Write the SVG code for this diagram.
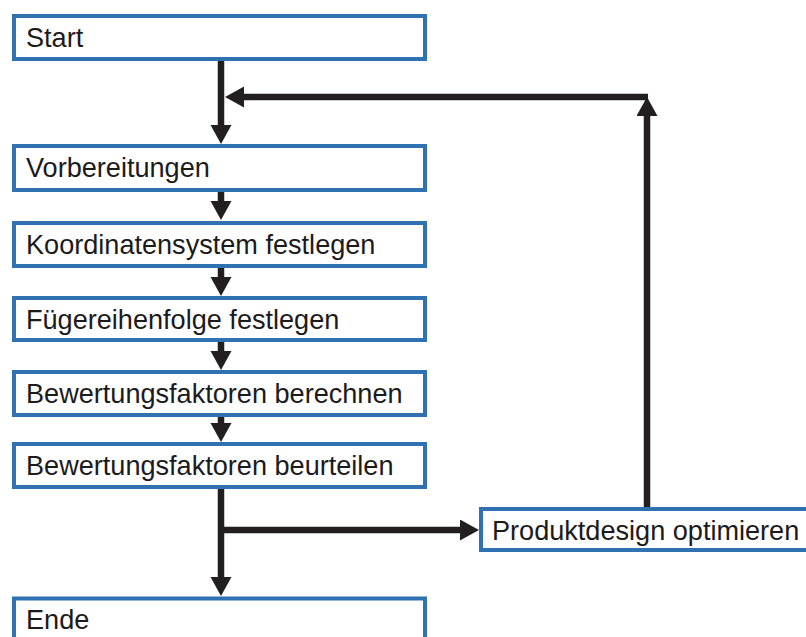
<svg xmlns="http://www.w3.org/2000/svg" width="806" height="637" viewBox="0 0 806 637">
  <style>
    .box { fill: #ffffff; stroke: #3071b1; stroke-width: 4; }
    .lbl { font-family: "Liberation Sans", Arial, sans-serif; font-size: 27.1px; fill: #1c1a1b; }
    .con { fill: none; stroke: #231f20; stroke-width: 6.5; stroke-linecap: butt; }
  </style>
  <defs>
    <marker id="arr" markerUnits="userSpaceOnUse" markerWidth="21" markerHeight="22" refX="1" refY="10.5" orient="auto">
      <path d="M0,0 L19,10.5 L0,21 z" fill="#231f20"/>
    </marker>
  </defs>
  <rect width="806" height="637" fill="#ffffff"/>

  <g id="connectors">
    <line class="con" x1="221" y1="61" x2="221" y2="126" marker-end="url(#arr)"/>
    <line class="con" x1="647" y1="507" x2="647" y2="115" marker-end="url(#arr)"/>
    <line class="con" x1="648" y1="97" x2="243" y2="97" marker-end="url(#arr)"/>
    <line class="con" x1="221" y1="192" x2="221" y2="202" marker-end="url(#arr)"/>
    <line class="con" x1="221" y1="268" x2="221" y2="278" marker-end="url(#arr)"/>
    <line class="con" x1="221" y1="342" x2="221" y2="352" marker-end="url(#arr)"/>
    <line class="con" x1="221" y1="417" x2="221" y2="424" marker-end="url(#arr)"/>
    <line class="con" x1="221" y1="489" x2="221" y2="578" marker-end="url(#arr)"/>
    <line class="con" x1="221" y1="530" x2="461" y2="530" marker-end="url(#arr)"/>
  </g>

  <g id="start">
    <rect class="box" x="14" y="16" width="411" height="43"/>
    <text class="lbl" x="26" y="47">Start</text>
  </g>
  <g id="vorbereitungen">
    <rect class="box" x="14" y="146" width="411" height="44"/>
    <text class="lbl" x="26" y="176.5">Vorbereitungen</text>
  </g>
  <g id="koordinatensystem">
    <rect class="box" x="14" y="223" width="411" height="43"/>
    <text class="lbl" x="26" y="254">Koordinatensystem festlegen</text>
  </g>
  <g id="fuegereihenfolge">
    <rect class="box" x="14" y="298" width="411" height="42"/>
    <text class="lbl" x="26" y="328.5">Fügereihenfolge festlegen</text>
  </g>
  <g id="berechnen">
    <rect class="box" x="14" y="372" width="411" height="43"/>
    <text class="lbl" x="26" y="403">Bewertungsfaktoren berechnen</text>
  </g>
  <g id="beurteilen">
    <rect class="box" x="14" y="444" width="411" height="43"/>
    <text class="lbl" x="26" y="475">Bewertungsfaktoren beurteilen</text>
  </g>
  <g id="ende">
    <rect class="box" x="14" y="598.5" width="411" height="60"/>
    <text class="lbl" x="26" y="628.5">Ende</text>
  </g>
  <g id="produktdesign">
    <rect class="box" x="481" y="509" width="360" height="41"/>
    <text class="lbl" x="492" y="539.5">Produktdesign optimieren</text>
  </g>
</svg>
